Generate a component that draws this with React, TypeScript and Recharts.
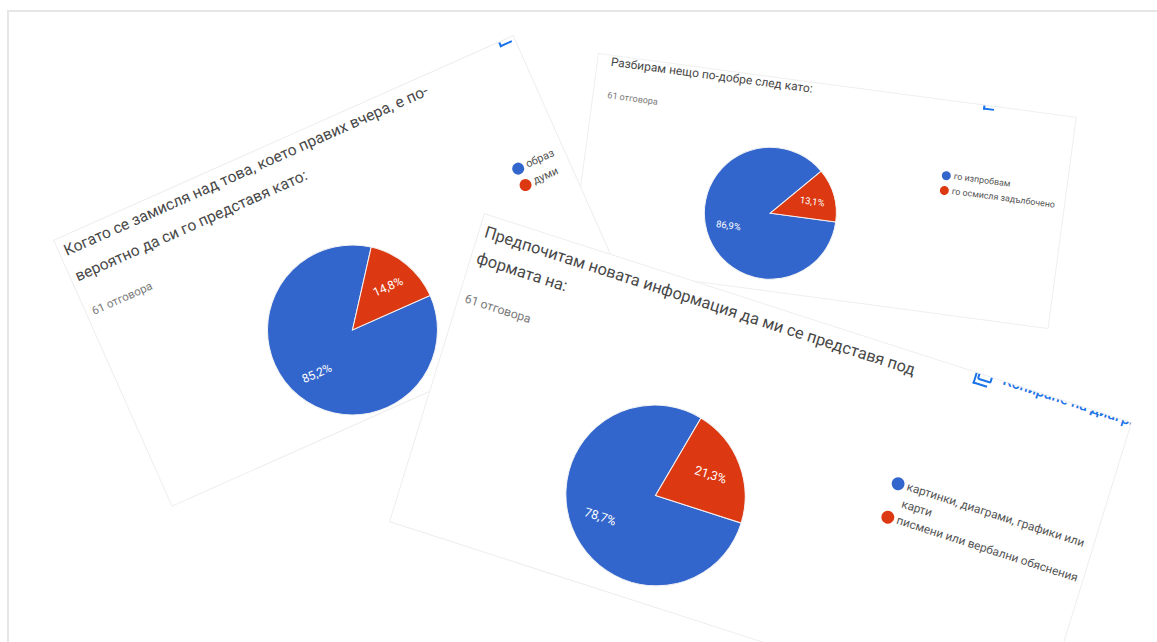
import React from 'react';
import { PieChart, Pie, Cell, Legend } from 'recharts';

const FONT = 'Roboto, sans-serif';
const SLICE_COLORS = ['#3366cc', '#dc3912'];

const recallNames = ['образ', 'думи'];
const recallValues = [85.2, 14.8];
const recallTitle = ['Когато се замисля над това, което правих вчера, е по-', 'вероятно да си го представя като:'];

const understandNames = ['го изпробвам', 'го осмисля задълбочено'];
const understandValues = [86.9, 13.1];
const understandTitle = ['Разбирам нещо по-добре след като:'];

const formatNames = ['картинки, диаграми, графики или карти', 'писмени или вербални обяснения'];
const formatValues = [78.7, 21.3];
const formatTitle = ['Предпочитам новата информация да ми се представя под', 'формата на:'];

const responsesLabel = '61 отговора';
const copyLabel = 'Копиране на диаграмата';

interface Layout {
  left: number; top: number; width: number; height: number; transform: string;
  cx: number; cy: number; radius: number;
  titleX: number; titleY: number; titleSize: number; titleLine: number;
  subX: number; subY: number; subSize: number;
  legendX: number; legendY: number; legendW: number; legendSize: number; legendRow: number; dot: number;
  labelSize: number;
  copyX: number; copyY: number; copySize: number; copyText: boolean;
}

interface CardProps {
  names: string[];
  values: number[];
  title: string[];
  layout: Layout;
}

function SurveyCard({ names, values, title, layout: l }: CardProps) {
  const data = names.map((name, i) => ({ name, value: values[i] }));

  // percentage written inside the slice, decimal comma like the form shows it
  const renderLabel = (p: any) => {
    const a = (-p.midAngle * Math.PI) / 180;
    return (
      <text
        x={p.cx + p.outerRadius * 0.66 * Math.cos(a)}
        y={p.cy + p.outerRadius * 0.66 * Math.sin(a)}
        fill="#fff"
        fontSize={l.labelSize}
        fontFamily={FONT}
        textAnchor="middle"
        dominantBaseline="central"
      >
        {`${p.value.toFixed(1).replace('.', ',')}%`}
      </text>
    );
  };

  const renderLegend = () => (
    <div style={{ fontFamily: FONT, fontSize: l.legendSize, color: '#555', lineHeight: `${l.legendRow}px` }}>
      {names.map((name, i) => (
        <div key={name} style={{ position: 'relative', paddingLeft: l.dot + 3 }}>
          <span
            style={{
              position: 'absolute', left: 0, top: (l.legendRow - l.dot) / 2,
              width: l.dot, height: l.dot, borderRadius: '50%', background: SLICE_COLORS[i],
            }}
          />
          {name}
        </div>
      ))}
    </div>
  );

  return (
    <div
      style={{
        position: 'absolute', left: l.left, top: l.top, width: l.width, height: l.height,
        transformOrigin: '0 0', transform: l.transform,
        background: '#fff', border: '1px solid #eeeeee', boxSizing: 'border-box', overflow: 'hidden',
      }}
    >
      {title.map((line, i) => (
        <div
          key={line}
          style={{
            position: 'absolute', left: l.titleX, top: l.titleY + i * l.titleLine,
            fontFamily: FONT, fontSize: l.titleSize, color: '#484848', whiteSpace: 'nowrap',
            lineHeight: 1, transform: 'translateY(-50%)',
          }}
        >
          {line}
        </div>
      ))}
      <div
        style={{
          position: 'absolute', left: l.subX, top: l.subY, fontFamily: FONT, fontSize: l.subSize,
          color: '#7a7a7a', whiteSpace: 'nowrap', lineHeight: 1, transform: 'translateY(-50%)',
        }}
      >
        {responsesLabel}
      </div>
      {/* copy button sits on the crop line, only its lower part stays inside */}
      <div
        style={{
          position: 'absolute', left: l.copyX, top: l.copyY, display: 'flex', alignItems: 'center',
          gap: l.copySize * 0.7, color: '#1a73e8', fontFamily: FONT, fontSize: l.copySize,
          fontWeight: 500, whiteSpace: 'nowrap', lineHeight: 1,
        }}
      >
        <span
          style={{
            position: 'relative', display: 'inline-block', width: l.copySize, height: l.copySize,
            border: '2px solid #1a73e8', borderRadius: 2, boxSizing: 'border-box',
          }}
        >
          <span
            style={{
              position: 'absolute', left: -5, top: 3, width: l.copySize, height: l.copySize,
              borderLeft: '2px solid #1a73e8', borderBottom: '2px solid #1a73e8', boxSizing: 'border-box',
            }}
          />
        </span>
        {l.copyText ? copyLabel : null}
      </div>
      <PieChart width={l.width} height={l.height} margin={{ top: 0, right: 0, bottom: 0, left: 0 }}>
        <Pie
          data={data}
          dataKey="value"
          nameKey="name"
          cx={l.cx}
          cy={l.cy}
          outerRadius={l.radius}
          startAngle={0}
          endAngle={-360}
          stroke="#f3f3f3"
          strokeWidth={1}
          label={renderLabel}
          labelLine={false}
          isAnimationActive={false}
        >
          {data.map((d, i) => (
            <Cell key={d.name} fill={SLICE_COLORS[i]} />
          ))}
        </Pie>
        <Legend
          content={renderLegend}
          wrapperStyle={{ position: 'absolute', left: l.legendX, top: l.legendY, width: l.legendW, bottom: 'auto' }}
        />
      </PieChart>
    </div>
  );
}

const recallLayout: Layout = {
  left: 53, top: 240, width: 504, height: 292, transform: 'rotate(-24deg)',
  cx: 236, cy: 203, radius: 85,
  titleX: 5, titleY: 15, titleSize: 15.6, titleLine: 28,
  subX: 6, subY: 81, subSize: 11.5,
  legendX: 447, legendY: 114, legendW: 56, legendSize: 11, legendRow: 18, dot: 12,
  labelSize: 12,
  copyX: 489, copyY: -13, copySize: 13, copyText: false,
};

const understandLayout: Layout = {
  left: 598, top: 53, width: 483, height: 214, transform: 'rotate(7.6deg)',
  cx: 191, cy: 135, radius: 66,
  titleX: 13, titleY: 6, titleSize: 12, titleLine: 20,
  subX: 14, subY: 40, subSize: 9,
  legendX: 356, legendY: 67, legendW: 125, legendSize: 8.9, legendRow: 15, dot: 9,
  labelSize: 9.5,
  copyX: 391, copyY: -12.5, copySize: 11, copyText: false,
};

// this card is photographed slightly skewed, its sides are not quite square
const formatLayout: Layout = {
  left: 484, top: 213, width: 681, height: 323, transform: 'matrix(0.9516, 0.3069, -0.2941, 0.9567, 0, 0)',
  cx: 246, cy: 215, radius: 90,
  titleX: 5.5, titleY: 17, titleSize: 16.35, titleLine: 27,
  subX: 6, subY: 86, subSize: 12.2,
  legendX: 468, legendY: 121, legendW: 210, legendSize: 11.8, legendRow: 17.5, dot: 13,
  labelSize: 12.5,
  copyX: 519, copyY: -9, copySize: 15, copyText: true,
};

export default function App() {
  return (
    <div style={{ position: 'absolute', left: 0, top: 0, width: 1157, height: 642, overflow: 'hidden', background: '#fff' }}>
      {/* page frame */}
      <div
        style={{
          position: 'absolute', left: 7, top: 10, width: 1150, height: 632, boxSizing: 'border-box',
          borderTop: '2px solid #e6e6e6', borderLeft: '2px solid #e6e6e6',
        }}
      />
      <SurveyCard names={understandNames} values={understandValues} title={understandTitle} layout={understandLayout} />
      <SurveyCard names={recallNames} values={recallValues} title={recallTitle} layout={recallLayout} />
      <SurveyCard names={formatNames} values={formatValues} title={formatTitle} layout={formatLayout} />
    </div>
  );
}
